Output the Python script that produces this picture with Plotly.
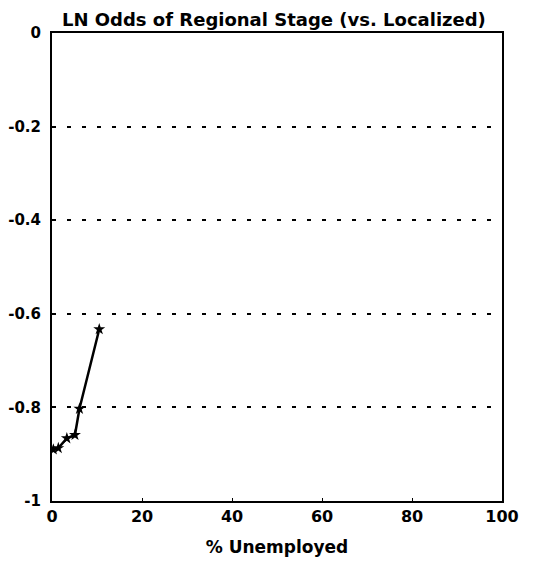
import plotly.graph_objects as go

unemployed = [0.3, 1.4, 3.3, 5.1, 6.1, 10.5]
ln_odds = [-0.89, -0.887, -0.866, -0.859, -0.803, -0.633]

y_ticks = [0, -0.2, -0.4, -0.6, -0.8, -1]
y_labels = ["0", "-0.2", "-0.4", "-0.6", "-0.8", "-1"]
x_ticks = [0, 20, 40, 60, 80, 100]

FAM = "DejaVu Sans, sans-serif"

fig = go.Figure()
fig.add_trace(go.Scatter(
    x=unemployed, y=ln_odds, mode="lines+markers",
    line=dict(color="black", width=2.5),
    marker=dict(symbol="star", size=9, color="black"),
    showlegend=False,
))

fig.update_layout(
    width=528, height=557,
    margin=dict(l=44, r=34, t=25, b=64),
    paper_bgcolor="white", plot_bgcolor="white",
    font=dict(family=FAM, size=16, color="black"),
    annotations=[dict(
        text="<b>LN Odds of Regional Stage (vs. Localized)</b>",
        xref="paper", yref="paper", x=0.018, y=1.0, xanchor="left", yanchor="bottom",
        yshift=1, showarrow=False, font=dict(family=FAM, size=18, color="black"),
    )],
)
fig.update_xaxes(
    range=[0, 100], tickvals=x_ticks, ticktext=[f"<b>{v}</b>" for v in x_ticks],
    tickfont=dict(family=FAM, size=16, color="black"),
    showgrid=False, zeroline=False, showline=True, linecolor="black", linewidth=2, mirror=True,
    ticks="inside", ticklen=3, tickcolor="black", automargin=False,
    title=dict(text="<b>% Unemployed</b>", standoff=16, font=dict(family=FAM, size=17, color="black")),
)
fig.update_yaxes(
    range=[-1, 0], tickvals=y_ticks, ticktext=[f"<b>{v}</b>" for v in y_labels],
    tickfont=dict(family=FAM, size=15, color="black"),
    showgrid=True, gridcolor="black", griddash="4px,11px", gridwidth=2,
    zeroline=False, showline=True, linecolor="black", linewidth=2, mirror=True,
    ticks="", ticklabelstandoff=6, automargin=False,
)

fig.write_html("out.html")
